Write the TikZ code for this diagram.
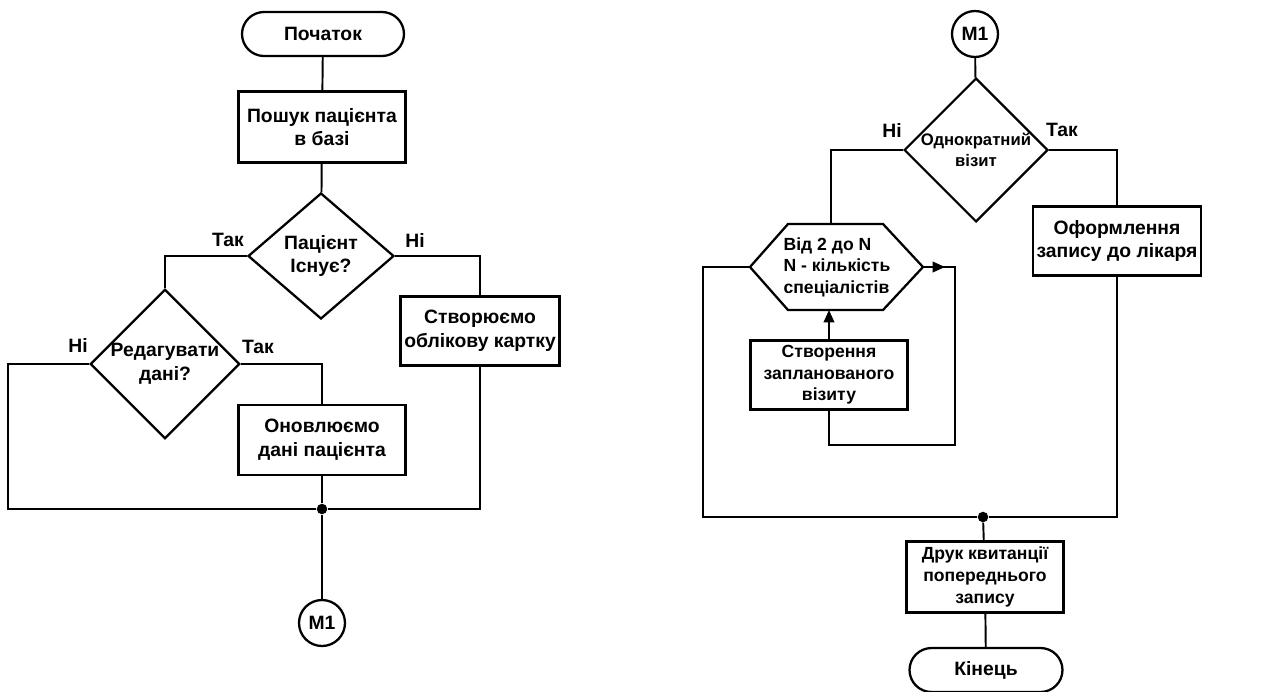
\documentclass[tikz,border=0pt]{standalone}
\usepackage{fontspec}
\setmainfont{Liberation Sans}
\usetikzlibrary{shapes.geometric, arrows.meta}

\tikzset{
  big/.style={font=\fontsize{11}{13.5}\selectfont\bfseries},
  small/.style={font=\fontsize{10}{12.3}\selectfont\bfseries},
  block/.style={draw, line width=1.3pt, align=center, inner sep=2pt, big},
  terminal/.style={block, rounded corners=0.44cm, minimum height=0.88cm},
  decision/.style={draw, diamond, line width=1.3pt, align=center, inner sep=0pt, big},
  connector/.style={draw, circle, line width=1.3pt, minimum size=0.92cm, inner sep=0pt, big},
  link/.style={line width=1.1pt},
  answer/.style={big},
  junction/.style={circle, fill, inner sep=0pt, minimum size=6pt}
}

\begin{document}
\begin{tikzpicture}[x=0.02cm, y=-0.02cm]
\useasboundingbox (0,0) rectangle (1275,691);

% Left part: search / create / update
\node[terminal, minimum width=3.24cm] (start) at (323,34) {Початок};
\node[block, minimum width=3.34cm, minimum height=1.42cm] (search) at (322,127) {Пошук пацієнта\\в базі};
\node[decision, minimum width=2.92cm, minimum height=2.52cm] (exists) at (321,256) {Пацієнт\\Існує?};
\node[block, minimum width=3.18cm, minimum height=1.38cm] (create) at (480,331) {Створюємо\\облікову картку};
\node[decision, minimum width=2.98cm, minimum height=2.54cm] (edit) at (165,364) {Редагувати\\дані?};
\node[block, minimum width=3.34cm, minimum height=1.4cm] (update) at (322,440) {Оновлюємо\\дані пацієнта};
\node[junction] (join1) at (322,509) {};
\node[connector] (m1a) at (322,623) {M1};
\coordinate (cornerL) at (8,509);

% Branch labels
\node[answer] (yes1) at (228,240) {Так};
\node[answer] (no1) at (415,240) {Ні};
\node[answer] (no2) at (78,345) {Ні};
\node[answer] (yes2) at (258,347) {Так};

\draw[link] (start) -- (search);
\draw[link] (search) -- (exists);
\draw[link] (exists.west) -| (edit.north);
\draw[link] (exists.east) -| (create.north);
\draw[link] (edit.east) -| (update.north);
\draw[link] (edit.west) -| (cornerL) -- (join1);
\draw[link] (create.south) |- (join1);
\draw[link] (update.south) -- (join1) -- (m1a);

% Right part: visits
\node[connector] (m1b) at (975,34) {M1};
\node[decision, minimum width=2.8cm, minimum height=2.56cm, font=\fontsize{9.5}{12}\selectfont\bfseries] (once) at (976,150) {Однократний\\візит};
\node[block, minimum width=3.12cm, minimum height=1.38cm] (form) at (1117,241) {Оформлення\\запису до лікаря};

% Loop hexagon
\coordinate (hexW) at (750,267);
\coordinate (hexE) at (923,267);
\coordinate (hexN) at (831,224);
\coordinate (hexS) at (831,310);
\draw[line width=1.3pt] (hexW) -- (788,224) -- (883,224) -- (hexE) -- (883,310) -- (788,310) -- cycle;
\node[small, align=left] (loop) at (837,267) {Від 2 до N\\N - кількість\\спеціалістів};

\node[block, small, minimum width=3.14cm, minimum height=1.38cm] (plan) at (829,375) {Створення\\запланованого\\візиту};
\node[junction] (join2) at (983,517) {};
\node[block, small, minimum width=3.14cm, minimum height=1.42cm] (print) at (985,577) {Друк квитанції\\попереднього\\запису};
\node[terminal, minimum width=3.06cm] (finish) at (986,670) {Кінець};
\coordinate (cornerL2) at (703,517);
\coordinate (loopR) at (955,267);
\coordinate (loopB) at (955,445);
\coordinate (arrowTip) at (945,267);

% Branch labels
\node[answer] (no3) at (892,130) {Ні};
\node[answer] (yes3) at (1062,130) {Так};

\draw[link] (m1b) -- (once);
\draw[link] (once.east) -| (form.north);
\draw[link] (once.west) -| (hexN);
\draw[link] (hexW) -| (cornerL2) -- (join2);
\draw[link] (form.south) |- (join2);
\draw[link] (join2) -- (print);
\draw[link] (print) -- (finish);
\draw[link, -{Triangle[length=7pt, width=6pt]}] (plan.north) -- (plan.north |- hexS);
\draw[link] (plan.south) |- (loopB) -- (loopR) -- (hexE);
\draw[link, -{Triangle[length=7pt, width=6pt]}] (hexE) -- (arrowTip);

\end{tikzpicture}
\end{document}
